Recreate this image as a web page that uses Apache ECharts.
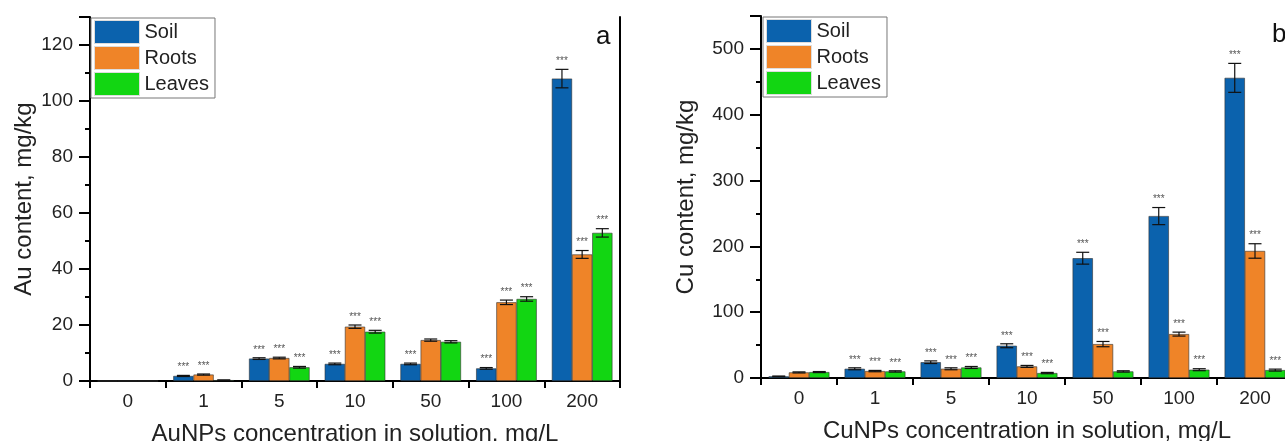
<!DOCTYPE html>
<html>
<head>
<meta charset="utf-8">
<script src="https://cdn.jsdelivr.net/npm/echarts@6/dist/echarts.min.js"></script>
<style>html,body{margin:0;padding:0;background:#fff}#c{width:1285px;height:441px}</style>
</head>
<body>
<div id="c"></div>
<script>
const categories = ['0', '1', '5', '10', '50', '100', '200'];
const seriesNames = ['Soil', 'Roots', 'Leaves'];

// Panel a: Au content, mg/kg
const auSoil = [0, 1.8, 8.0, 6.1, 6.1, 4.5, 108];
const auRoots = [0, 2.3, 8.2, 19.4, 14.6, 28.1, 45.2];
const auLeaves = [0, 0.3, 4.9, 17.6, 14.0, 29.3, 52.9];
const auSoilErr = [0, 0.2, 0.3, 0.3, 0.3, 0.3, 3.3];
const auRootsErr = [0, 0.2, 0.3, 0.6, 0.4, 0.8, 1.4];
const auLeavesErr = [0, 0.1, 0.3, 0.5, 0.4, 0.8, 1.5];
const auSoilSig = ['', '***', '***', '***', '***', '***', '***'];
const auRootsSig = ['', '***', '***', '***', '', '***', '***'];
const auLeavesSig = ['', '', '***', '***', '', '***', '***'];

// Panel b: Cu content, mg/kg
const cuSoil = [2.5, 14, 24, 49, 182, 246, 456];
const cuRoots = [8.5, 10.5, 14, 17.6, 51.5, 66.7, 193];
const cuLeaves = [9, 10, 16, 7.5, 10, 12.6, 12];
const cuSoilErr = [0.5, 1.5, 2, 3, 9, 13, 22];
const cuRootsErr = [0.8, 1, 1.5, 1.5, 4, 3, 11];
const cuLeavesErr = [0.8, 1, 1.5, 1, 1, 1.5, 1.5];
const cuSoilSig = ['', '***', '***', '***', '***', '***', '***'];
const cuRootsSig = ['', '***', '***', '***', '***', '***', '***'];
const cuLeavesSig = ['', '***', '***', '***', '', '***', '***'];

const colors = ['#0b62ad', '#ef8428', '#12d612'];
const FONT = '"Liberation Sans", Arial, sans-serif';
const CATGAP = 0.2;

function errSeries(vals, errs, sigs, idx, axisIdx) {
  return {
    type: 'custom',
    xAxisIndex: axisIdx, yAxisIndex: axisIdx,
    z: 10, silent: true,
    encode: { x: 0, y: 1 },
    data: vals.map((v, i) => [i, v, errs[i], sigs[i]]),
    renderItem: function (params, api) {
      const ci = api.value(0), v = api.value(1), e = api.value(2);
      const sig = sigs[ci];
      const band = api.size([1, 0])[0];
      const bw = band * (1 - CATGAP) / 3;
      const base = api.coord([ci, v]);
      const x = base[0] + (idx - 1) * bw;
      const top = api.coord([ci, v + e])[1];
      const bot = api.coord([ci, Math.max(v - e, 0)])[1];
      const cap = 6.5;
      const st = { stroke: '#111', lineWidth: 1.2 };
      const children = [];
      if (v > 0) {
        children.push({ type: 'line', shape: { x1: x, y1: top, x2: x, y2: bot }, style: st });
        children.push({ type: 'line', shape: { x1: x - cap, y1: top, x2: x + cap, y2: top }, style: st });
        children.push({ type: 'line', shape: { x1: x - cap, y1: bot, x2: x + cap, y2: bot }, style: st });
      }
      if (sig) {
        children.push({ type: 'text', style: { x: x, y: top - 3, text: sig, fill: '#555', font: '10px ' + FONT, align: 'center', verticalAlign: 'bottom' } });
      }
      return { type: 'group', children: children };
    }
  };
}

function barSeries(name, vals, idx, axisIdx) {
  return {
    name: name, type: 'bar', xAxisIndex: axisIdx, yAxisIndex: axisIdx,
    data: vals, barGap: '0%', barCategoryGap: (CATGAP * 100) + '%',
    itemStyle: { color: colors[idx], borderColor: '#333', borderWidth: 0.6 },
    silent: true
  };
}

const axisLine = { show: true, lineStyle: { color: '#000', width: 2 } };
const labelStyle = { color: '#222', fontSize: 19, fontFamily: FONT };
const nameStyle = { color: '#222', fontSize: 24, fontFamily: FONT };

function xAxes(gridIndex, name) {
  return [
    {
      type: 'category', gridIndex: gridIndex, data: categories, position: 'bottom',
      axisLine: axisLine, axisTick: { show: true, inside: false, length: 7, lineStyle: { width: 2, color: '#000' } },
      axisLabel: Object.assign({ margin: 11 }, labelStyle),
      name: name, nameLocation: 'middle', nameGap: 41, nameTextStyle: nameStyle,
      splitLine: { show: false }
    },
    {
      type: 'category', gridIndex: gridIndex, data: categories, position: 'top',
      axisLine: axisLine, axisTick: { show: true, inside: true, length: 6, lineStyle: { width: 2, color: '#000' } },
      axisLabel: { show: false }, splitLine: { show: false }
    }
  ];
}

function yAxes(gridIndex, max, interval, name, nameGap) {
  return [
    {
      type: 'value', gridIndex: gridIndex, min: 0, max: max, interval: interval, position: 'left',
      axisLine: axisLine, axisTick: { show: true, inside: false, length: 11, lineStyle: { width: 2, color: '#000' } },
      minorTick: { show: true, splitNumber: 2, length: 5, lineStyle: { width: 2, color: '#000' } },
      axisLabel: Object.assign({ margin: 17, showMaxLabel: false }, labelStyle),
      splitLine: { show: false },
      name: name, nameLocation: 'middle', nameGap: nameGap, nameTextStyle: nameStyle
    },
    {
      type: 'value', gridIndex: gridIndex, min: 0, max: max, interval: interval, position: 'right',
      axisLine: axisLine, axisTick: { show: false }, axisLabel: { show: false }, splitLine: { show: false }
    }
  ];
}

const legendCommon = {
  orient: 'vertical', itemWidth: 45, itemHeight: 23, itemGap: 2,
  backgroundColor: '#fff', borderColor: '#777', borderWidth: 1, padding: [2, 6, 2, 3],
  itemStyle: { borderColor: '#ddd', borderWidth: 1 },
  textStyle: { color: '#222', fontSize: 20, fontFamily: FONT, padding: [0, 0, 0, 0] },
  icon: 'rect', selectedMode: false, data: seriesNames
};

const xa = xAxes(0, 'AuNPs concentration in solution, mg/L').concat(xAxes(1, 'CuNPs concentration in solution, mg/L'));
const ya = yAxes(0, 130, 20, 'Au content, mg/kg', 54).concat(yAxes(1, 550, 100, 'Cu content, mg/kg', 63));
const series = [
  barSeries('Soil', auSoil, 0, 0), barSeries('Roots', auRoots, 1, 0), barSeries('Leaves', auLeaves, 2, 0),
  barSeries('Soil', cuSoil, 0, 2), barSeries('Roots', cuRoots, 1, 2), barSeries('Leaves', cuLeaves, 2, 2),
  errSeries(auSoil, auSoilErr, auSoilSig, 0, 0), errSeries(auRoots, auRootsErr, auRootsSig, 1, 0), errSeries(auLeaves, auLeavesErr, auLeavesSig, 2, 0),
  errSeries(cuSoil, cuSoilErr, cuSoilSig, 0, 2), errSeries(cuRoots, cuRootsErr, cuRootsSig, 1, 2), errSeries(cuLeaves, cuLeavesErr, cuLeavesSig, 2, 2)
];

const chart = echarts.init(document.getElementById('c'), null, { renderer: 'canvas' });
chart.setOption({
  animation: false,
  backgroundColor: '#fff',
  textStyle: { fontFamily: FONT },
  grid: [
    { left: 90, top: 17, width: 530, height: 364, outerBoundsMode: 'none', containLabel: false },
    { left: 761, top: 16, width: 532, height: 362, outerBoundsMode: 'none', containLabel: false }
  ],
  xAxis: xa,
  yAxis: ya,
  legend: [
    Object.assign({ left: 91, top: 18 }, legendCommon),
    Object.assign({ left: 763, top: 17 }, legendCommon)
  ],
  graphic: [
    { type: 'text', left: 596, top: 24, style: { text: 'a', font: '26px ' + FONT, fill: '#111' } },
    { type: 'text', left: 1272, top: 22, style: { text: 'b', font: '26px ' + FONT, fill: '#111' } }
  ],
  series: series
});
</script>
</body>
</html>
